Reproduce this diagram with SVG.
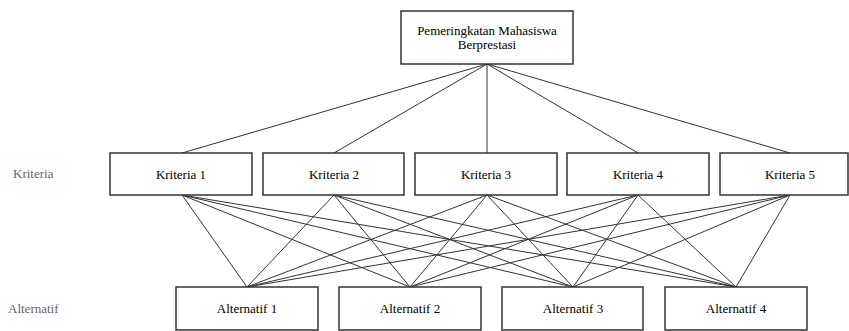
<svg xmlns="http://www.w3.org/2000/svg" width="849" height="331" viewBox="0 0 849 331">
<style>
.box{fill:#fff;stroke:#333;stroke-width:1.5}
.t{font-family:"Liberation Serif","Times New Roman",serif;font-size:13px;fill:#000;text-anchor:middle}
.lbl{font-family:"Liberation Serif","Times New Roman",serif;font-size:13px;fill:#666}
.c line{stroke:#333;stroke-width:1}
</style>
<rect width="849" height="331" fill="#fff"/>
<g class="c" id="connectors">
<line x1="487" y1="64" x2="182" y2="153"/>
<line x1="487" y1="64" x2="334" y2="153"/>
<line x1="487" y1="64" x2="487" y2="153"/>
<line x1="487" y1="64" x2="638" y2="153"/>
<line x1="487" y1="64" x2="790" y2="153"/>
<line x1="182" y1="195" x2="247" y2="287"/><line x1="182" y1="195" x2="410" y2="287"/><line x1="182" y1="195" x2="573" y2="287"/><line x1="182" y1="195" x2="736" y2="287"/>
<line x1="334" y1="195" x2="247" y2="287"/><line x1="334" y1="195" x2="410" y2="287"/><line x1="334" y1="195" x2="573" y2="287"/><line x1="334" y1="195" x2="736" y2="287"/>
<line x1="487" y1="195" x2="247" y2="287"/><line x1="487" y1="195" x2="410" y2="287"/><line x1="487" y1="195" x2="573" y2="287"/><line x1="487" y1="195" x2="736" y2="287"/>
<line x1="638" y1="195" x2="247" y2="287"/><line x1="638" y1="195" x2="410" y2="287"/><line x1="638" y1="195" x2="573" y2="287"/><line x1="638" y1="195" x2="736" y2="287"/>
<line x1="790" y1="195" x2="247" y2="287"/><line x1="790" y1="195" x2="410" y2="287"/><line x1="790" y1="195" x2="573" y2="287"/><line x1="790" y1="195" x2="736" y2="287"/>
</g>
<g id="goal"><rect class="box" x="401" y="11" width="172" height="53"/><text class="t" x="487" y="35">Pemeringkatan Mahasiswa</text><text class="t" x="487" y="49">Berprestasi</text></g>
<text class="lbl" x="13" y="178">Kriteria</text>
<text class="lbl" x="8" y="313">Alternatif</text>
<g id="k1"><rect class="box" x="110" y="153" width="142" height="42"/><text class="t" x="181" y="178.5">Kriteria 1</text></g>
<g id="k2"><rect class="box" x="263" y="153" width="141" height="42"/><text class="t" x="334" y="178.5">Kriteria 2</text></g>
<g id="k3"><rect class="box" x="415" y="153" width="142" height="42"/><text class="t" x="486" y="178.5">Kriteria 3</text></g>
<g id="k4"><rect class="box" x="567" y="153" width="142" height="42"/><text class="t" x="638" y="178.5">Kriteria 4</text></g>
<g id="k5"><rect class="box" x="720" y="153" width="128" height="42"/><text class="t" x="790" y="178.5">Kriteria 5</text></g>
<g id="a1"><rect class="box" x="176" y="287" width="142" height="43"/><text class="t" x="247" y="313">Alternatif 1</text></g>
<g id="a2"><rect class="box" x="339" y="287" width="142" height="43"/><text class="t" x="410" y="313">Alternatif 2</text></g>
<g id="a3"><rect class="box" x="502" y="287" width="141" height="43"/><text class="t" x="573" y="313">Alternatif 3</text></g>
<g id="a4"><rect class="box" x="665" y="287" width="142" height="43"/><text class="t" x="736" y="313">Alternatif 4</text></g>
</svg>
